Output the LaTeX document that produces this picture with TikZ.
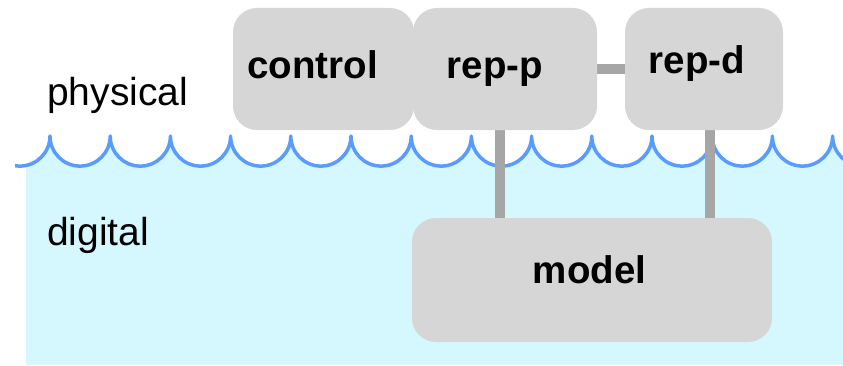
\documentclass[tikz,border=0pt]{standalone}
\usepackage{fontspec}
\setmainfont{Liberation Sans}

\definecolor{waterfill}{HTML}{D5F8FF}
\definecolor{waveblue}{HTML}{5A9BFF}
\definecolor{boxgray}{HTML}{D6D6D6}
\definecolor{linkgray}{HTML}{A6A6A6}

\pgfdeclarelayer{water}
\pgfdeclarelayer{links}
\pgfsetlayers{water,links,main}

\begin{document}
\begin{tikzpicture}[x=1pt,y=1pt,
  block/.style={fill=boxgray, draw=none, rounded corners=24pt, inner sep=0pt},
  blocklabel/.style={anchor=base, inner sep=0pt, font=\fontsize{38.5}{46}\selectfont\bfseries},
  layerlabel/.style={anchor=base west, inner sep=0pt, font=\fontsize{39}{46}\selectfont},
  link/.style={draw=linkgray, line width=10pt},
  wave/.style={draw=waveblue, line width=3.5pt, line join=round}]
\useasboundingbox (0,0) rectangle (843,365);

% water surface: a row of scallops, filled below
\begin{pgfonlayer}{water}
  \begin{scope}
    \clip (26,0) rectangle (843,365);
    \fill[waterfill] (-10.2,229)
      foreach \k in {0,...,14} {arc[start angle=180, end angle=360, radius=30.1pt]}
      -- (892.8,0) -- (-10.2,0) -- cycle;
  \end{scope}
  \begin{scope}
    \clip (15,0) rectangle (843,365);
    \draw[wave] (-10.2,229)
      foreach \k in {0,...,14} {arc[start angle=180, end angle=360, radius=30.1pt]};
  \end{scope}
\end{pgfonlayer}

% blocks
\node[block, minimum width=181pt, minimum height=122pt] (control) at (323.5,296) {};
\node[block, minimum width=184pt, minimum height=122pt] (repp) at (505,296) {};
\node[block, minimum width=158pt, minimum height=122pt] (repd) at (704,296) {};
\node[block, minimum width=360pt, minimum height=124pt] (model) at (592,85) {};

% block labels
\node[blocklabel] (controltext) at (312.5,287) {control};
\node[blocklabel] (repptext) at (495,287) {rep-p};
\node[blocklabel] (repdtext) at (697,291) {rep-d};
\node[blocklabel] (modeltext) at (589.5,82) {model};

% layer names
\node[layerlabel] (physical) at (47,260) {physical};
\node[layerlabel] (digital) at (47,120) {digital};

% links between blocks
\begin{pgfonlayer}{links}
  \draw[link] (repp.east) -- (repd.west);
  \draw[link] ([xshift=-5pt]repp.south) -- ([xshift=-5pt]repp.south |- model.north);
  \draw[link] ([xshift=6pt]repd.south) -- ([xshift=6pt]repd.south |- model.north);
\end{pgfonlayer}
\end{tikzpicture}
\end{document}
